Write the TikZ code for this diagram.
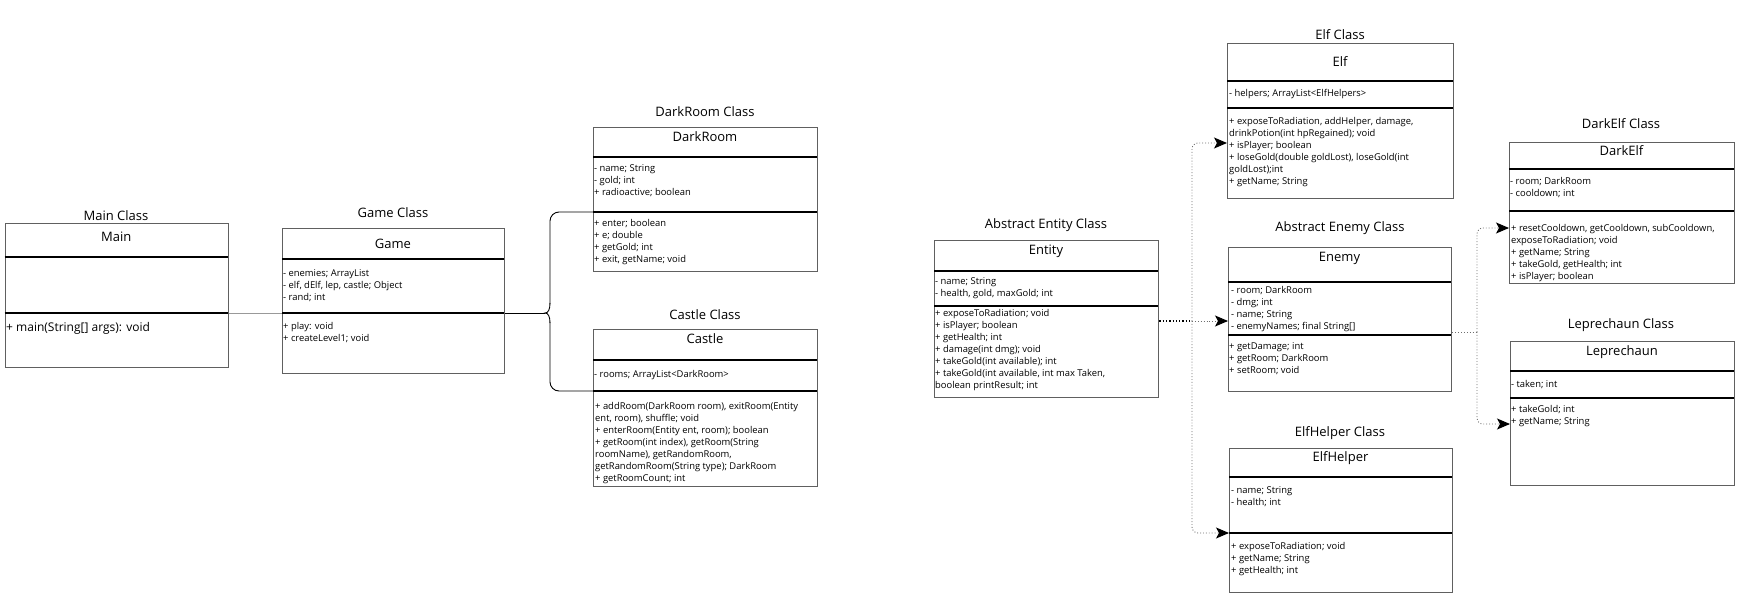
\documentclass[tikz,border=0pt]{standalone}
\usepackage{fontspec}
\setmainfont{Open Sans}
\usetikzlibrary{arrows.meta}
\definecolor{boxgray}{HTML}{606060}
\definecolor{linegray}{HTML}{6E6E6E}
\newcommand{\memberfont}{\fontsize{9.4}{12}\selectfont}
\newcommand{\umlclass}[9]{%
  \node[classbox, anchor=north west, minimum width={#4-#2}, minimum height={#5-#3}] (#1) at (#2,#3) {};
  \draw[divider] (#2,#6) -- (#4,#6);
  \draw[divider] (#2,#7) -- (#4,#7);
  \node[classtitle] (#1-title) at ({(#2+#4)/2},#8) {#9};
}
\begin{document}
\begin{tikzpicture}[x=1pt,y=-1pt,
  classbox/.style={draw=boxgray, line width=1.3pt, inner sep=0pt, fill=none},
  divider/.style={draw=black, line width=1.7pt},
  classtitle/.style={font=\fontsize{13}{15}\selectfont, inner sep=0pt},
  classlabel/.style={font=\fontsize{13}{15}\selectfont, inner sep=0pt},
  members/.style={anchor=north west, inner sep=0pt, align=left, font=\memberfont, execute at begin node=\strut},
  plainline/.style={draw=black, line width=0.9pt},
  mainline/.style={draw=linegray!70, line width=0.7pt},
  dotthick/.style={draw=black, line width=1.3pt, dotted},
  dotthin/.style={draw=linegray, line width=0.9pt, dotted, rounded corners=6pt},
  >={Stealth[length=13pt,width=11pt,inset=3pt,color=black,fill=black]},
  tip/.style={->}
]
\useasboundingbox (0,0) rectangle (1741,597);

% ---------------- Main ----------------
\umlclass{main}{4.5}{223}{228}{367}{257}{313}{237}{Main}
\node[classlabel] (main-label) at (116,216) {Main Class};
\node[members, font=\fontsize{12}{14}\selectfont] (main-methods) at (6,321) {+ main(String[] args): void};

% ---------------- Game ----------------
\umlclass{game}{282}{228}{504}{373}{259}{313}{243.5}{Game}
\node[classlabel] (game-label) at (393,213) {Game Class};
\node[members] (game-attrs) at (283,269) {- enemies; ArrayList\\- elf, dElf, lep, castle; Object\\- rand; int};
\node[members] (game-methods) at (283,322) {+ play: void\\+ createLevel1; void};

% ---------------- DarkRoom ----------------
\umlclass{darkroom}{593}{127}{817}{271}{157}{212}{137}{DarkRoom}
\node[classlabel] (darkroom-label) at (705,112) {DarkRoom Class};
\node[members] (darkroom-attrs) at (594,164) {- name; String\\- gold; int\\+ radioactive; boolean};
\node[members] (darkroom-methods) at (594,219.5) {+ enter; boolean\\+ e; double\\+ getGold; int\\+ exit, getName; void};

% ---------------- Castle ----------------
\umlclass{castle}{593}{329}{817}{486}{360}{391}{339}{Castle}
\node[classlabel] (castle-label) at (705,315) {Castle Class};
\node[members] (castle-attrs) at (594,368.5) {- rooms; ArrayList<DarkRoom>};
\node[members] (castle-methods) at (595,402) {+ addRoom(DarkRoom room), exitRoom(Entity\\ent, room), shuffle; void\\+ enterRoom(Entity ent, room); boolean\\+ getRoom(int index), getRoom(String\\roomName), getRandomRoom,\\getRandomRoom(String type); DarkRoom\\+ getRoomCount; int};

% ---------------- Entity ----------------
\umlclass{entity}{934}{240}{1158}{397}{271}{306}{251}{Entity}
\node[classlabel] (entity-label) at (1046,225) {Abstract Entity Class};
\node[members] (entity-attrs) at (935,277) {- name; String\\- health, gold, maxGold; int};
\node[members] (entity-methods) at (935,309) {+ exposeToRadiation; void\\+ isPlayer; boolean\\+ getHealth; int\\+ damage(int dmg); void\\+ takeGold(int available); int\\+ takeGold(int available, int max Taken,\\boolean printResult; int};

% ---------------- Elf ----------------
\umlclass{elf}{1227}{43}{1453}{198}{81}{108}{62}{Elf}
\node[classlabel] (elf-label) at (1340,35) {Elf Class};
\node[members] (elf-attrs) at (1229,88) {- helpers; ArrayList<ElfHelpers>};
\node[members] (elf-methods) at (1229,117) {+ exposeToRadiation, addHelper, damage,\\drinkPotion(int hpRegained); void\\+ isPlayer; boolean\\+ loseGold(double goldLost), loseGold(int\\goldLost);int\\+ getName; String};

% ---------------- Enemy ----------------
\umlclass{enemy}{1228}{247}{1451}{391}{282}{335}{258}{Enemy}
\node[classlabel] (enemy-label) at (1340,228) {Abstract Enemy Class};
\node[members] (enemy-attrs) at (1231,286) {- room; DarkRoom\\- dmg; int\\- name; String\\- enemyNames; final String[]};
\node[members] (enemy-methods) at (1229,342) {+ getDamage; int\\+ getRoom; DarkRoom\\+ setRoom; void};

% ---------------- ElfHelper ----------------
\umlclass{elfhelper}{1229}{448}{1452}{592}{477}{533}{458}{ElfHelper}
\node[classlabel] (elfhelper-label) at (1340,433) {ElfHelper Class};
\node[members] (elfhelper-attrs) at (1231,486) {- name; String\\- health; int};
\node[members] (elfhelper-methods) at (1231,542) {+ exposeToRadiation; void\\+ getName; String\\+ getHealth; int};

% ---------------- DarkElf ----------------
\umlclass{darkelf}{1509}{142}{1734}{283}{169}{211}{151}{DarkElf}
\node[classlabel] (darkelf-label) at (1621,124) {DarkElf Class};
\node[members] (darkelf-attrs) at (1510,177) {- room; DarkRoom\\- cooldown; int};
\node[members] (darkelf-methods) at (1511,224.5) {+ resetCooldown, getCooldown, subCooldown,\\exposeToRadiation; void\\+ getName; String\\+ takeGold, getHealth; int\\+ isPlayer; boolean};

% ---------------- Leprechaun ----------------
\umlclass{leprechaun}{1510}{341}{1734}{485}{371}{398}{352}{Leprechaun}
\node[classlabel] (leprechaun-label) at (1621,325) {Leprechaun Class};
\node[members] (leprechaun-attrs) at (1511,379) {- taken; int};
\node[members] (leprechaun-methods) at (1511,405) {+ takeGold; int\\+ getName; String};

% ---------------- connectors: left group ----------------
\coordinate (brace) at (545,313);
\coordinate (drd) at (593,212);
\coordinate (csd) at (593,391);
\draw[mainline] (main.east |- brace) -- (game.west |- brace);
\draw[plainline] (game.east |- brace) -- (brace);
\draw[plainline, rounded corners=9pt] (darkroom.west |- drd) -- (550,212) -- (550,304);
\draw[plainline] (550,303) .. controls (550,310) and (548,313) .. (brace) .. controls (548,313) and (550,316) .. (550,323);
\draw[plainline, rounded corners=9pt] (550,322) -- (550,391) -- (castle.west |- csd);

% ---------------- connectors: right group ----------------
\coordinate (j1) at (1192,321);
\coordinate (elfin) at (1227,143);
\coordinate (helperin) at (1229,533);
\coordinate (j2) at (1477,332);
\coordinate (darkelfin) at (1509,228);
\coordinate (lepin) at (1510,424);
\draw[dotthick] (entity.east |- j1) -- (j1);
\draw[dotthin, tip] (j1) -- (enemy.west |- j1);
\draw[dotthin, tip] (j1) |- (elf.west |- elfin);
\draw[dotthin, tip] (j1) |- (elfhelper.west |- helperin);
\draw[dotthin] (enemy.east |- j2) -- (j2);
\draw[dotthin, tip] (j2) |- (darkelf.west |- darkelfin);
\draw[dotthin, tip] (j2) |- (leprechaun.west |- lepin);
\end{tikzpicture}
\end{document}
